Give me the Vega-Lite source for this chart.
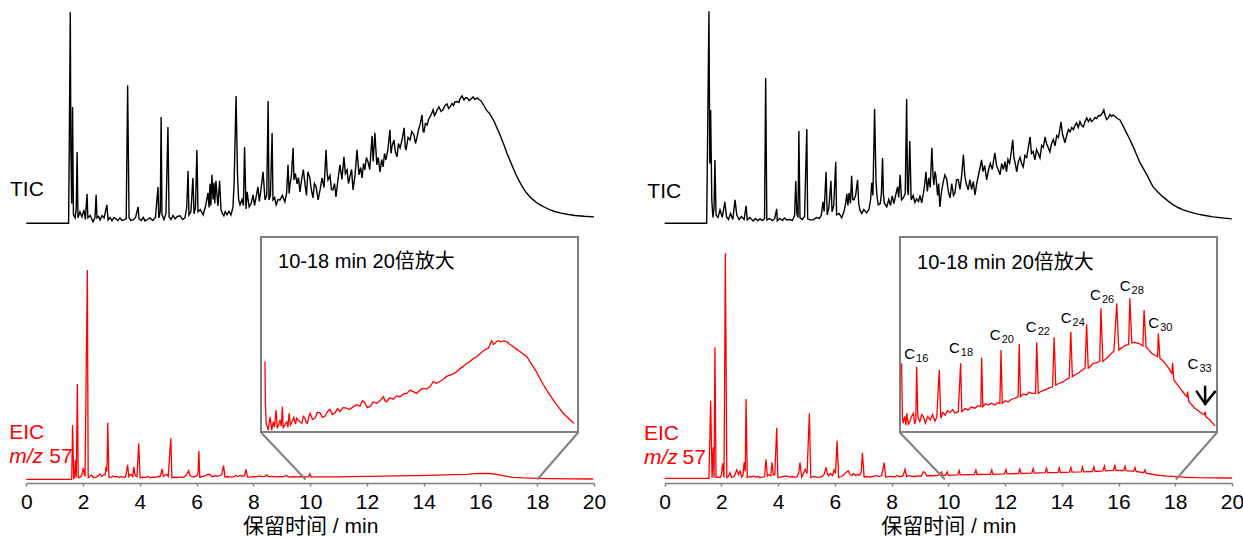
{
"$schema": "https://vega.github.io/schema/vega-lite/v6.json",
"width": 1243, "height": 483,
"autosize": {"type": "none"},
"padding": {"left": 0, "top": 0, "right": 0, "bottom": 55},
"background": "white",
"config": {"view": {"stroke": null}},
"resolve": {"scale": {"x": "independent", "y": "independent"}, "axis": {"x": "independent", "y": "independent"}},
"layer": [
{"data": {"values": [
{"t":0,"v":0.1},{"t":1.49,"v":0.1},{"t":1.52,"v":50.8},{"t":1.55,"v":105.6},{"t":1.57,"v":36.8},{"t":1.6,"v":10},{"t":1.63,"v":58.3},{"t":1.66,"v":4.3},{"t":1.72,"v":2.8},{"t":1.76,"v":8},{"t":1.79,"v":35.8},{"t":1.82,"v":2.8},{"t":1.89,"v":5.8},{"t":1.96,"v":3.3},{"t":2.03,"v":6.8},{"t":2.08,"v":2},{"t":2.14,"v":14.8},{"t":2.17,"v":2.8},{"t":2.25,"v":4},{"t":2.35,"v":0.8},{"t":2.42,"v":3},{"t":2.46,"v":14.3},{"t":2.49,"v":2.8},{"t":2.55,"v":3.5},{"t":2.6,"v":1.8},{"t":2.67,"v":4},{"t":2.74,"v":2.8},{"t":2.84,"v":9.3},{"t":2.88,"v":1.8},{"t":2.95,"v":3},{"t":3.02,"v":1.3},{"t":3.09,"v":3},{"t":3.16,"v":2.3},{"t":3.23,"v":1.5},{"t":3.3,"v":2.8},{"t":3.37,"v":1.5},{"t":3.44,"v":1.8},{"t":3.52,"v":2.5},{"t":3.57,"v":69.1},{"t":3.62,"v":2.8},{"t":3.69,"v":1.5},{"t":3.76,"v":1.8},{"t":3.85,"v":3},{"t":3.94,"v":8.3},{"t":3.97,"v":2.3},{"t":4.05,"v":1.5},{"t":4.12,"v":3},{"t":4.18,"v":1.3},{"t":4.26,"v":2},{"t":4.36,"v":2.8},{"t":4.45,"v":1.5},{"t":4.55,"v":3},{"t":4.64,"v":18.3},{"t":4.67,"v":2.8},{"t":4.72,"v":6},{"t":4.75,"v":53.3},{"t":4.78,"v":4.3},{"t":4.85,"v":2},{"t":4.92,"v":5},{"t":4.99,"v":48.3},{"t":5.03,"v":3.3},{"t":5.1,"v":2},{"t":5.17,"v":4},{"t":5.24,"v":2.3},{"t":5.32,"v":3.5},{"t":5.42,"v":3.8},{"t":5.5,"v":2},{"t":5.59,"v":2.8},{"t":5.65,"v":8},{"t":5.7,"v":26.3},{"t":5.73,"v":4.3},{"t":5.8,"v":6},{"t":5.87,"v":22.8},{"t":5.91,"v":4.8},{"t":5.96,"v":8},{"t":6.01,"v":36.8},{"t":6.05,"v":5.8},{"t":6.13,"v":7},{"t":6.23,"v":4.3},{"t":6.32,"v":9},{"t":6.4,"v":15.3},{"t":6.44,"v":8},{"t":6.47,"v":19.8},{"t":6.5,"v":9},{"t":6.54,"v":24.3},{"t":6.58,"v":12},{"t":6.61,"v":20.3},{"t":6.64,"v":10},{"t":6.68,"v":21.3},{"t":6.75,"v":8.8},{"t":6.81,"v":21.3},{"t":6.86,"v":6.8},{"t":6.91,"v":5},{"t":6.96,"v":3.8},{"t":7.01,"v":6},{"t":7.07,"v":4.3},{"t":7.14,"v":6},{"t":7.21,"v":4.3},{"t":7.28,"v":8},{"t":7.32,"v":19.8},{"t":7.39,"v":63.8},{"t":7.44,"v":24.3},{"t":7.48,"v":12},{"t":7.53,"v":9.3},{"t":7.6,"v":12},{"t":7.65,"v":9},{"t":7.69,"v":38.3},{"t":7.74,"v":7.3},{"t":7.78,"v":15.8},{"t":7.85,"v":8.3},{"t":7.92,"v":10},{"t":7.99,"v":14.3},{"t":8.04,"v":9},{"t":8.09,"v":12.8},{"t":8.16,"v":18.3},{"t":8.21,"v":11},{"t":8.27,"v":17.3},{"t":8.34,"v":25.8},{"t":8.41,"v":11.8},{"t":8.47,"v":14},{"t":8.52,"v":61.3},{"t":8.55,"v":11.8},{"t":8.6,"v":14},{"t":8.66,"v":45.3},{"t":8.69,"v":11.8},{"t":8.75,"v":13},{"t":8.8,"v":9.3},{"t":8.87,"v":12},{"t":8.94,"v":11.8},{"t":9.02,"v":14},{"t":9.11,"v":10.8},{"t":9.17,"v":15},{"t":9.22,"v":29.3},{"t":9.26,"v":15},{"t":9.29,"v":19.3},{"t":9.34,"v":24},{"t":9.4,"v":37.8},{"t":9.43,"v":21.8},{"t":9.48,"v":25},{"t":9.54,"v":19.8},{"t":9.59,"v":23},{"t":9.64,"v":15.8},{"t":9.7,"v":22},{"t":9.76,"v":27},{"t":9.82,"v":19.3},{"t":9.87,"v":14},{"t":9.92,"v":25.8},{"t":9.99,"v":22.8},{"t":10.04,"v":17},{"t":10.1,"v":12.8},{"t":10.15,"v":20},{"t":10.21,"v":18.3},{"t":10.28,"v":11.8},{"t":10.35,"v":16.8},{"t":10.42,"v":22.8},{"t":10.49,"v":18},{"t":10.56,"v":36.8},{"t":10.6,"v":25},{"t":10.63,"v":21.8},{"t":10.7,"v":24},{"t":10.75,"v":17},{"t":10.8,"v":16.8},{"t":10.86,"v":20},{"t":10.91,"v":13.3},{"t":10.98,"v":22},{"t":11.05,"v":29.3},{"t":11.12,"v":22},{"t":11.19,"v":33.3},{"t":11.24,"v":25},{"t":11.3,"v":26.8},{"t":11.35,"v":20},{"t":11.4,"v":23.3},{"t":11.46,"v":27},{"t":11.51,"v":16.8},{"t":11.58,"v":24},{"t":11.65,"v":36.8},{"t":11.72,"v":24.3},{"t":11.78,"v":28},{"t":11.83,"v":22.8},{"t":11.88,"v":30},{"t":11.93,"v":26.8},{"t":11.98,"v":33},{"t":12.04,"v":30.8},{"t":12.1,"v":27},{"t":12.18,"v":43.8},{"t":12.22,"v":31},{"t":12.28,"v":45.3},{"t":12.35,"v":29.3},{"t":12.4,"v":33},{"t":12.46,"v":25.8},{"t":12.52,"v":32},{"t":12.57,"v":28.3},{"t":12.62,"v":35},{"t":12.67,"v":31.8},{"t":12.74,"v":37},{"t":12.81,"v":46.8},{"t":12.85,"v":35},{"t":12.88,"v":38.3},{"t":12.95,"v":41.8},{"t":13.0,"v":36},{"t":13.06,"v":33.3},{"t":13.11,"v":40},{"t":13.17,"v":37.8},{"t":13.24,"v":42},{"t":13.31,"v":47.8},{"t":13.35,"v":38},{"t":13.38,"v":36.8},{"t":13.45,"v":43},{"t":13.52,"v":41.8},{"t":13.58,"v":46},{"t":13.66,"v":44.3},{"t":13.71,"v":40},{"t":13.76,"v":42.8},{"t":13.82,"v":47},{"t":13.87,"v":49.3},{"t":13.94,"v":54.3},{"t":13.98,"v":46},{"t":14.01,"v":45.8},{"t":14.06,"v":50},{"t":14.12,"v":49.3},{"t":14.17,"v":52},{"t":14.22,"v":53.3},{"t":14.28,"v":55},{"t":14.33,"v":56.8},{"t":14.38,"v":54},{"t":14.43,"v":55.3},{"t":14.48,"v":57},{"t":14.54,"v":58.3},{"t":14.61,"v":56},{"t":14.68,"v":56.8},{"t":14.75,"v":59},{"t":14.82,"v":59.8},{"t":14.88,"v":57.5},{"t":14.93,"v":58.3},{"t":15.0,"v":60},{"t":15.05,"v":59},{"t":15.1,"v":60.8},{"t":15.18,"v":61},{"t":15.24,"v":60.5},{"t":15.28,"v":62.3},{"t":15.35,"v":63.8},{"t":15.42,"v":61.8},{"t":15.48,"v":63},{"t":15.53,"v":62.8},{"t":15.6,"v":61.5},{"t":15.67,"v":62.3},{"t":15.74,"v":63.3},{"t":15.8,"v":62},{"t":15.88,"v":62.8},{"t":15.95,"v":62},{"t":16.02,"v":61.3},{"t":16.12,"v":59},{"t":16.23,"v":56.3},{"t":16.32,"v":55},{"t":16.41,"v":52.8},{"t":16.5,"v":50.5},{"t":16.58,"v":47.8},{"t":16.67,"v":45},{"t":16.76,"v":41.8},{"t":16.85,"v":38.5},{"t":16.93,"v":35.3},{"t":17.04,"v":31.5},{"t":17.15,"v":27.8},{"t":17.25,"v":24.5},{"t":17.36,"v":21.3},{"t":17.47,"v":18.5},{"t":17.57,"v":16.3},{"t":17.7,"v":14},{"t":17.82,"v":12.3},{"t":17.96,"v":10.6},{"t":18.1,"v":9.3},{"t":18.28,"v":8},{"t":18.45,"v":6.8},{"t":18.62,"v":6},{"t":18.8,"v":5.3},{"t":19.05,"v":4.6},{"t":19.33,"v":4.0},{"t":19.65,"v":3.6},{"t":20.0,"v":3.3}
]},
"mark": {"type": "line", "color": "black", "strokeWidth": 1.4},
"encoding": {
"x": {"field": "t", "type": "quantitative", "scale": {"domain": [0, 20], "range": [26.3, 594], "nice": false, "zero": false}, "axis": null},
"y": {"field": "v", "type": "quantitative", "scale": {"domain": [0, 100], "range": [223.5, 23.5], "nice": false, "zero": false}, "axis": null}}},

{"data": {"values": [
{"t":0,"v":0.1},{"t":1.6,"v":0.1},{"t":1.63,"v":27.3},{"t":1.67,"v":0.3},{"t":1.7,"v":1.5},{"t":1.73,"v":9.8},{"t":1.76,"v":1},{"t":1.8,"v":47.8},{"t":1.83,"v":1},{"t":1.89,"v":1},{"t":1.95,"v":2},{"t":2.01,"v":5.8},{"t":2.04,"v":3},{"t":2.07,"v":1.5},{"t":2.15,"v":104.8},{"t":2.18,"v":1},{"t":2.24,"v":1.5},{"t":2.3,"v":2.3},{"t":2.36,"v":1},{"t":2.45,"v":1.2},{"t":2.52,"v":1.8},{"t":2.6,"v":2.8},{"t":2.66,"v":1.5},{"t":2.72,"v":2.2},{"t":2.78,"v":2.5},{"t":2.81,"v":6.3},{"t":2.84,"v":4},{"t":2.87,"v":28.4},{"t":2.91,"v":1},{"t":3.0,"v":1.2},{"t":3.06,"v":1.8},{"t":3.12,"v":1.3},{"t":3.2,"v":1.5},{"t":3.28,"v":1.0},{"t":3.35,"v":1.5},{"t":3.42,"v":1},{"t":3.5,"v":1.3},{"t":3.57,"v":7.3},{"t":3.61,"v":1.5},{"t":3.66,"v":2.5},{"t":3.71,"v":2.3},{"t":3.75,"v":1.5},{"t":3.79,"v":6.3},{"t":3.82,"v":3},{"t":3.85,"v":1.8},{"t":3.9,"v":1.5},{"t":3.96,"v":18.1},{"t":4.01,"v":0.8},{"t":4.1,"v":1.2},{"t":4.2,"v":1},{"t":4.28,"v":1.5},{"t":4.36,"v":0.8},{"t":4.45,"v":1.2},{"t":4.55,"v":1},{"t":4.63,"v":1.5},{"t":4.71,"v":1.5},{"t":4.75,"v":3},{"t":4.78,"v":5.3},{"t":4.83,"v":1.5},{"t":4.88,"v":2.2},{"t":4.95,"v":2.5},{"t":5.0,"v":1.5},{"t":5.09,"v":20.6},{"t":5.13,"v":0.8},{"t":5.2,"v":1.2},{"t":5.3,"v":1},{"t":5.41,"v":1.3},{"t":5.5,"v":1},{"t":5.58,"v":1.5},{"t":5.65,"v":2.5},{"t":5.72,"v":4.4},{"t":5.77,"v":2},{"t":5.83,"v":1.5},{"t":5.9,"v":1.2},{"t":6.0,"v":1.8},{"t":6.05,"v":3},{"t":6.08,"v":14.3},{"t":6.11,"v":1.2},{"t":6.2,"v":1.5},{"t":6.3,"v":1.8},{"t":6.38,"v":2.5},{"t":6.47,"v":2.5},{"t":6.53,"v":1.5},{"t":6.59,"v":1.5},{"t":6.66,"v":2},{"t":6.73,"v":1.5},{"t":6.82,"v":2},{"t":6.88,"v":2.3},{"t":6.95,"v":6.9},{"t":7.0,"v":1.3},{"t":7.1,"v":1.5},{"t":7.2,"v":1.2},{"t":7.29,"v":1.3},{"t":7.38,"v":2},{"t":7.46,"v":1.5},{"t":7.55,"v":2},{"t":7.62,"v":1.5},{"t":7.69,"v":2},{"t":7.74,"v":5.1},{"t":7.79,"v":1.2},{"t":7.9,"v":1.2},{"t":8.0,"v":1.5},{"t":8.1,"v":1.3},{"t":8.2,"v":1.8},{"t":8.3,"v":1.4},{"t":8.4,"v":1.6},{"t":8.47,"v":2.3},{"t":8.55,"v":1.4},{"t":8.65,"v":1.6},{"t":8.8,"v":1.3},{"t":8.95,"v":1.5},{"t":9.05,"v":1.3},{"t":9.17,"v":2},{"t":9.25,"v":1.2},{"t":9.4,"v":1.4},{"t":9.55,"v":1.3},{"t":9.7,"v":1.5},{"t":9.85,"v":1.3},{"t":9.95,"v":1.4},{"t":9.99,"v":2.8},{"t":10.04,"v":1.2},{"t":10.2,"v":1.3},{"t":10.35,"v":1.3},{"t":10.6,"v":1.3},{"t":11.0,"v":1.35},{"t":11.4,"v":1.4},{"t":12.0,"v":1.55},{"t":12.5,"v":1.7},{"t":13.0,"v":1.8},{"t":13.75,"v":1.95},{"t":14.5,"v":2.2},{"t":15.0,"v":2.4},{"t":15.52,"v":2.6},{"t":15.8,"v":2.9},{"t":16.1,"v":3.1},{"t":16.35,"v":3.0},{"t":16.57,"v":2.6},{"t":16.85,"v":1.8},{"t":17.15,"v":1.1},{"t":17.5,"v":0.8},{"t":17.98,"v":0.6},{"t":18.5,"v":0.4},{"t":19.2,"v":0.3},{"t":19.97,"v":0.25}
]},
"mark": {"type": "line", "color": "#ff0000", "strokeWidth": 1.3},
"encoding": {
"x": {"field": "t", "type": "quantitative", "scale": {"domain": [0, 20], "range": [26.3, 594], "nice": false, "zero": false},
 "axis": {"orient": "bottom", "values": [0,2,4,6,8,10,12,14,16,18,20], "title": "保留时间 / min", "grid": false, "domainColor": "#7f7f7f", "domainWidth": 1.5, "tickColor": "#7f7f7f", "tickWidth": 1.5, "tickSize": 3, "labelFont": "Liberation Sans", "labelFontSize": 21, "labelColor": "black", "labelPadding": 5, "labelFlush": false, "labelOverlap": false, "titleFont": "Liberation Sans, Noto Sans CJK SC", "titleFontSize": 21, "titleFontWeight": "normal", "titleColor": "black", "titlePadding": 3}},
"y": {"field": "v", "type": "quantitative", "scale": {"domain": [0, 100], "range": [479.5, 279.5], "nice": false, "zero": false}, "axis": null}}},

{"data": {"values": [{"t1": 8.27, "v1": 23.5, "t2": 9.84, "v2": 0}, {"t1": 19.44, "v1": 23.5, "t2": 18.0, "v2": 0}]},
"mark": {"type": "rule", "color": "#7f7f7f", "strokeWidth": 2},
"encoding": {
"x": {"field": "t1", "type": "quantitative", "scale": {"domain": [0, 20], "range": [26.3, 594], "nice": false, "zero": false}, "axis": null},
"x2": {"field": "t2"},
"y": {"field": "v1", "type": "quantitative", "scale": {"domain": [0, 100], "range": [479.5, 279.5], "nice": false, "zero": false}, "axis": null},
"y2": {"field": "v2"}}},

{"data": {"values": [{"a": 10, "b": 18, "c": 0, "d": 100}]},
"mark": {"type": "rect", "filled": false, "stroke": "#7f7f7f", "strokeWidth": 2},
"encoding": {
"x": {"field": "a", "type": "quantitative", "scale": {"domain": [10, 18], "range": [261, 578], "nice": false, "zero": false}, "axis": null},
"x2": {"field": "b"},
"y": {"field": "c", "type": "quantitative", "scale": {"domain": [0, 100], "range": [432, 237], "nice": false, "zero": false}, "axis": null},
"y2": {"field": "d"}}},

{"data": {"values": [
{"t":10.1,"v":36.1},{"t":10.11,"v":15},{"t":10.13,"v":4.5},{"t":10.18,"v":1.0},{"t":10.23,"v":7.8},{"t":10.27,"v":1.0},{"t":10.31,"v":5.3},{"t":10.34,"v":2.5},{"t":10.38,"v":11.3},{"t":10.41,"v":1.9},{"t":10.45,"v":4},{"t":10.48,"v":6.2},{"t":10.51,"v":3},{"t":10.54,"v":13},{"t":10.56,"v":1.9},{"t":10.61,"v":4},{"t":10.65,"v":5.3},{"t":10.68,"v":2.5},{"t":10.71,"v":9.6},{"t":10.74,"v":3.5},{"t":10.77,"v":4.5},{"t":10.83,"v":7.5},{"t":10.87,"v":4},{"t":10.9,"v":7},{"t":10.96,"v":5.5},{"t":11.03,"v":4.5},{"t":11.07,"v":8},{"t":11.11,"v":7},{"t":11.14,"v":5},{"t":11.17,"v":4.5},{"t":11.21,"v":8},{"t":11.24,"v":9.6},{"t":11.3,"v":6.5},{"t":11.36,"v":7},{"t":11.42,"v":10},{"t":11.49,"v":9.9},{"t":11.55,"v":7.5},{"t":11.62,"v":8.2},{"t":11.68,"v":10.5},{"t":11.74,"v":11.6},{"t":11.8,"v":9},{"t":11.87,"v":9.9},{"t":11.93,"v":12},{"t":11.99,"v":10.4},{"t":12.07,"v":12.5},{"t":12.16,"v":12.2},{"t":12.24,"v":11.5},{"t":12.33,"v":13},{"t":12.42,"v":14},{"t":12.5,"v":13.3},{"t":12.56,"v":16},{"t":12.62,"v":15},{"t":12.68,"v":12.5},{"t":12.75,"v":13},{"t":12.83,"v":15.5},{"t":12.92,"v":14.7},{"t":13.0,"v":16},{"t":13.09,"v":18.1},{"t":13.13,"v":16},{"t":13.17,"v":15.5},{"t":13.25,"v":17.5},{"t":13.34,"v":16.8},{"t":13.42,"v":18.5},{"t":13.51,"v":18.1},{"t":13.6,"v":19.5},{"t":13.68,"v":19.8},{"t":13.76,"v":21.5},{"t":13.84,"v":20.7},{"t":13.93,"v":19.8},{"t":14.01,"v":21.5},{"t":14.09,"v":22.4},{"t":14.17,"v":22},{"t":14.26,"v":23.2},{"t":14.35,"v":25.8},{"t":14.43,"v":25},{"t":14.52,"v":26},{"t":14.6,"v":27},{"t":14.68,"v":28.5},{"t":14.77,"v":29.2},{"t":14.85,"v":29.8},{"t":14.94,"v":30.9},{"t":15.02,"v":32.5},{"t":15.1,"v":33.5},{"t":15.18,"v":35},{"t":15.27,"v":36.1},{"t":15.35,"v":37.5},{"t":15.44,"v":38.6},{"t":15.52,"v":40},{"t":15.61,"v":41.7},{"t":15.68,"v":42.5},{"t":15.74,"v":42.9},{"t":15.78,"v":45},{"t":15.82,"v":46.8},{"t":15.87,"v":45},{"t":15.91,"v":45.5},{"t":15.95,"v":46.5},{"t":15.99,"v":46.8},{"t":16.05,"v":46.2},{"t":16.12,"v":46.7},{"t":16.2,"v":46.3},{"t":16.28,"v":45},{"t":16.37,"v":43.7},{"t":16.45,"v":42.5},{"t":16.54,"v":41.2},{"t":16.62,"v":40},{"t":16.71,"v":38.6},{"t":16.79,"v":36},{"t":16.87,"v":33.5},{"t":16.96,"v":30.5},{"t":17.04,"v":27.5},{"t":17.12,"v":24.5},{"t":17.21,"v":21.5},{"t":17.29,"v":19},{"t":17.38,"v":16.4},{"t":17.46,"v":14},{"t":17.55,"v":11.6},{"t":17.63,"v":9.5},{"t":17.72,"v":7.8},{"t":17.81,"v":6},{"t":17.9,"v":4.5}
]},
"mark": {"type": "line", "color": "#ff0000", "strokeWidth": 1.3},
"encoding": {
"x": {"field": "t", "type": "quantitative", "scale": {"domain": [10, 18], "range": [261, 578], "nice": false, "zero": false}, "axis": null},
"y": {"field": "v", "type": "quantitative", "scale": {"domain": [0, 100], "range": [432, 237], "nice": false, "zero": false}, "axis": null}}},

{"data": {"values": [{"t": 10.43, "v": 87.2, "label": "10-18 min 20倍放大"}]},
"mark": {"type": "text", "align": "left", "baseline": "middle", "font": "Liberation Sans, Noto Sans CJK SC", "fontSize": 20, "color": "black"},
"encoding": {
"x": {"field": "t", "type": "quantitative", "scale": {"domain": [10, 18], "range": [261, 578], "nice": false, "zero": false}, "axis": null},
"y": {"field": "v", "type": "quantitative", "scale": {"domain": [0, 100], "range": [432, 237], "nice": false, "zero": false}, "axis": null},
"text": {"field": "label"}}},

{"data": {"values": [{"t": -0.574, "v": 16.75, "label": "TIC"}]},
"mark": {"type": "text", "align": "left", "baseline": "middle", "font": "Liberation Sans", "fontSize": 21, "color": "black"},
"encoding": {
"x": {"field": "t", "type": "quantitative", "scale": {"domain": [0, 20], "range": [26.3, 594], "nice": false, "zero": false}, "axis": null},
"y": {"field": "v", "type": "quantitative", "scale": {"domain": [0, 100], "range": [223.5, 23.5], "nice": false, "zero": false}, "axis": null},
"text": {"field": "label"}}},

{"data": {"values": [{"t": -0.6, "v": 23.25, "label": "EIC"}, {"t": 0.81, "v": 11.4, "label": "57"}]},
"mark": {"type": "text", "align": "left", "baseline": "middle", "font": "Liberation Sans", "fontSize": 21, "color": "#ff0000"},
"encoding": {
"x": {"field": "t", "type": "quantitative", "scale": {"domain": [0, 20], "range": [26.3, 594], "nice": false, "zero": false}, "axis": null},
"y": {"field": "v", "type": "quantitative", "scale": {"domain": [0, 100], "range": [479.5, 279.5], "nice": false, "zero": false}, "axis": null},
"text": {"field": "label"}}},

{"data": {"values": [{"t": -0.6, "v": 11.4, "label": "m/z"}]},
"mark": {"type": "text", "align": "left", "baseline": "middle", "font": "Liberation Sans", "fontSize": 21, "fontStyle": "italic", "color": "#ff0000"},
"encoding": {
"x": {"field": "t", "type": "quantitative", "scale": {"domain": [0, 20], "range": [26.3, 594], "nice": false, "zero": false}, "axis": null},
"y": {"field": "v", "type": "quantitative", "scale": {"domain": [0, 100], "range": [479.5, 279.5], "nice": false, "zero": false}, "axis": null},
"text": {"field": "label"}}},

{"data": {"values": [
{"t":0,"v":0.1},{"t":1.48,"v":0.1},{"t":1.52,"v":53.3},{"t":1.56,"v":106.1},{"t":1.59,"v":30},{"t":1.62,"v":56.8},{"t":1.66,"v":11.8},{"t":1.7,"v":3},{"t":1.74,"v":8},{"t":1.77,"v":31.8},{"t":1.81,"v":4.3},{"t":1.88,"v":3},{"t":1.95,"v":6.8},{"t":2.03,"v":3},{"t":2.12,"v":10.8},{"t":2.18,"v":3.3},{"t":2.25,"v":2},{"t":2.32,"v":5},{"t":2.4,"v":2},{"t":2.48,"v":11.8},{"t":2.54,"v":4.3},{"t":2.62,"v":2},{"t":2.7,"v":3.5},{"t":2.8,"v":2},{"t":2.87,"v":8.8},{"t":2.91,"v":1.8},{"t":3.0,"v":3},{"t":3.12,"v":1.3},{"t":3.2,"v":2.5},{"t":3.28,"v":1.5},{"t":3.36,"v":2.3},{"t":3.45,"v":1.5},{"t":3.52,"v":2.5},{"t":3.56,"v":72.8},{"t":3.6,"v":1.8},{"t":3.7,"v":2.5},{"t":3.8,"v":1.5},{"t":3.88,"v":2.5},{"t":3.95,"v":7.3},{"t":3.97,"v":1.3},{"t":4.05,"v":2.5},{"t":4.15,"v":1.5},{"t":4.22,"v":2.8},{"t":4.3,"v":1.8},{"t":4.4,"v":2},{"t":4.5,"v":1.5},{"t":4.58,"v":4},{"t":4.62,"v":21.3},{"t":4.66,"v":5},{"t":4.7,"v":3},{"t":4.73,"v":46.3},{"t":4.77,"v":2.8},{"t":4.85,"v":2},{"t":4.93,"v":3.5},{"t":5.01,"v":47.3},{"t":5.04,"v":2.3},{"t":5.12,"v":1.8},{"t":5.24,"v":1.8},{"t":5.35,"v":3},{"t":5.45,"v":2.5},{"t":5.52,"v":4},{"t":5.58,"v":10.8},{"t":5.62,"v":6},{"t":5.69,"v":25.8},{"t":5.73,"v":4.3},{"t":5.79,"v":8},{"t":5.86,"v":21.3},{"t":5.9,"v":5.8},{"t":5.96,"v":9},{"t":6.03,"v":30.8},{"t":6.06,"v":4.3},{"t":6.15,"v":5},{"t":6.24,"v":2.8},{"t":6.32,"v":6},{"t":6.38,"v":10},{"t":6.42,"v":14.8},{"t":6.46,"v":9},{"t":6.5,"v":15.3},{"t":6.55,"v":10},{"t":6.59,"v":23.8},{"t":6.63,"v":12},{"t":6.67,"v":11.8},{"t":6.73,"v":14},{"t":6.8,"v":21.8},{"t":6.84,"v":10},{"t":6.88,"v":6.8},{"t":6.95,"v":5},{"t":7.02,"v":7},{"t":7.12,"v":5.3},{"t":7.2,"v":7},{"t":7.26,"v":12},{"t":7.3,"v":20.3},{"t":7.34,"v":14},{"t":7.4,"v":57.3},{"t":7.45,"v":20.8},{"t":7.49,"v":13},{"t":7.53,"v":9.3},{"t":7.6,"v":10},{"t":7.64,"v":15},{"t":7.68,"v":32.8},{"t":7.71,"v":15},{"t":7.74,"v":10.3},{"t":7.83,"v":8.3},{"t":7.9,"v":12},{"t":7.96,"v":9},{"t":8.02,"v":13.8},{"t":8.08,"v":10},{"t":8.14,"v":14},{"t":8.21,"v":18.3},{"t":8.25,"v":13},{"t":8.3,"v":24.3},{"t":8.35,"v":11.8},{"t":8.42,"v":13},{"t":8.48,"v":15},{"t":8.53,"v":62.3},{"t":8.56,"v":17},{"t":8.59,"v":14.3},{"t":8.64,"v":41.3},{"t":8.69,"v":11.8},{"t":8.76,"v":14},{"t":8.82,"v":10.5},{"t":8.88,"v":12.3},{"t":8.95,"v":11},{"t":9.0,"v":14},{"t":9.06,"v":10.3},{"t":9.12,"v":15},{"t":9.17,"v":20},{"t":9.21,"v":25.8},{"t":9.26,"v":16},{"t":9.31,"v":22.8},{"t":9.36,"v":18},{"t":9.42,"v":37.8},{"t":9.46,"v":24},{"t":9.49,"v":19.3},{"t":9.53,"v":26},{"t":9.56,"v":23.8},{"t":9.62,"v":14},{"t":9.66,"v":20},{"t":9.7,"v":8.3},{"t":9.76,"v":16},{"t":9.82,"v":20.8},{"t":9.88,"v":24.3},{"t":9.94,"v":22.3},{"t":10.0,"v":16},{"t":10.06,"v":12.8},{"t":10.12,"v":20},{"t":10.18,"v":14},{"t":10.23,"v":15.3},{"t":10.29,"v":22},{"t":10.35,"v":21.8},{"t":10.41,"v":17},{"t":10.47,"v":24},{"t":10.53,"v":34.3},{"t":10.58,"v":24},{"t":10.63,"v":20},{"t":10.7,"v":16.8},{"t":10.76,"v":22},{"t":10.82,"v":17},{"t":10.88,"v":21},{"t":10.94,"v":14.3},{"t":11.0,"v":20},{"t":11.06,"v":24},{"t":11.12,"v":28},{"t":11.17,"v":31.8},{"t":11.22,"v":26},{"t":11.28,"v":29},{"t":11.35,"v":21.8},{"t":11.42,"v":27},{"t":11.48,"v":30},{"t":11.55,"v":27},{"t":11.6,"v":32},{"t":11.64,"v":35.3},{"t":11.7,"v":29},{"t":11.76,"v":27},{"t":11.82,"v":24.3},{"t":11.88,"v":30},{"t":11.94,"v":27},{"t":12.0,"v":31},{"t":12.05,"v":25.8},{"t":12.1,"v":32},{"t":12.16,"v":30},{"t":12.22,"v":36},{"t":12.27,"v":41.8},{"t":12.31,"v":33},{"t":12.36,"v":30},{"t":12.41,"v":25.8},{"t":12.47,"v":31},{"t":12.53,"v":33},{"t":12.58,"v":30},{"t":12.64,"v":28.3},{"t":12.7,"v":34},{"t":12.76,"v":33},{"t":12.82,"v":38},{"t":12.88,"v":43.3},{"t":12.93,"v":35},{"t":12.99,"v":36},{"t":13.05,"v":31.8},{"t":13.11,"v":37},{"t":13.17,"v":35},{"t":13.23,"v":32.8},{"t":13.29,"v":39},{"t":13.35,"v":38},{"t":13.41,"v":43.3},{"t":13.46,"v":40},{"t":13.52,"v":38},{"t":13.58,"v":35.8},{"t":13.64,"v":40},{"t":13.7,"v":42},{"t":13.76,"v":38.8},{"t":13.82,"v":44},{"t":13.88,"v":43},{"t":13.93,"v":47},{"t":13.97,"v":50.8},{"t":14.02,"v":45},{"t":14.06,"v":43},{"t":14.11,"v":40.3},{"t":14.17,"v":44},{"t":14.23,"v":47},{"t":14.29,"v":45.8},{"t":14.35,"v":48},{"t":14.41,"v":47},{"t":14.46,"v":49},{"t":14.52,"v":50.3},{"t":14.58,"v":48},{"t":14.64,"v":51},{"t":14.7,"v":49},{"t":14.76,"v":48.3},{"t":14.82,"v":51},{"t":14.88,"v":52.8},{"t":14.94,"v":51},{"t":15.0,"v":52.5},{"t":15.05,"v":51},{"t":15.11,"v":51.8},{"t":15.17,"v":53},{"t":15.23,"v":52.5},{"t":15.29,"v":54},{"t":15.35,"v":53.8},{"t":15.42,"v":55},{"t":15.48,"v":56.8},{"t":15.53,"v":54},{"t":15.58,"v":52},{"t":15.64,"v":52.8},{"t":15.7,"v":54.5},{"t":15.76,"v":53.5},{"t":15.81,"v":54.3},{"t":15.88,"v":53.5},{"t":15.96,"v":52.5},{"t":16.05,"v":51.8},{"t":16.16,"v":48.8},{"t":16.28,"v":45.3},{"t":16.4,"v":42},{"t":16.52,"v":38.3},{"t":16.64,"v":34.3},{"t":16.76,"v":30.3},{"t":16.88,"v":27.3},{"t":17.0,"v":24.3},{"t":17.11,"v":21.2},{"t":17.22,"v":18.3},{"t":17.4,"v":15.5},{"t":17.57,"v":13.3},{"t":17.75,"v":11.2},{"t":17.93,"v":9.3},{"t":18.1,"v":8},{"t":18.28,"v":6.8},{"t":18.5,"v":5.8},{"t":18.75,"v":4.8},{"t":19.05,"v":4},{"t":19.34,"v":3.3},{"t":19.65,"v":2.8},{"t":19.99,"v":2.3}
]},
"mark": {"type": "line", "color": "black", "strokeWidth": 1.4},
"encoding": {
"x": {"field": "t", "type": "quantitative", "scale": {"domain": [0, 20], "range": [664.7, 1232], "nice": false, "zero": false}, "axis": null},
"y": {"field": "v", "type": "quantitative", "scale": {"domain": [0, 100], "range": [223.5, 23.5], "nice": false, "zero": false}, "axis": null}}},

{"data": {"values": [
{"t":0,"v":0.6},{"t":1.56,"v":0.6},{"t":1.62,"v":39.3},{"t":1.67,"v":0.8},{"t":1.71,"v":16.1},{"t":1.74,"v":1},{"t":1.77,"v":66.1},{"t":1.81,"v":1},{"t":1.88,"v":1.2},{"t":1.95,"v":1},{"t":2.0,"v":2.5},{"t":2.04,"v":8.1},{"t":2.09,"v":1},{"t":2.14,"v":113.1},{"t":2.19,"v":1},{"t":2.25,"v":1.5},{"t":2.3,"v":3.4},{"t":2.36,"v":1},{"t":2.45,"v":1.5},{"t":2.54,"v":4.8},{"t":2.6,"v":2.5},{"t":2.66,"v":4.3},{"t":2.71,"v":1.2},{"t":2.76,"v":2},{"t":2.8,"v":8.6},{"t":2.84,"v":4},{"t":2.87,"v":40.3},{"t":2.91,"v":1},{"t":3.0,"v":1.5},{"t":3.06,"v":1.2},{"t":3.12,"v":1.8},{"t":3.2,"v":1.2},{"t":3.28,"v":1.5},{"t":3.36,"v":1},{"t":3.45,"v":1.2},{"t":3.52,"v":1.5},{"t":3.57,"v":10.1},{"t":3.62,"v":1.8},{"t":3.68,"v":2.5},{"t":3.74,"v":1.8},{"t":3.78,"v":8.6},{"t":3.83,"v":2.3},{"t":3.88,"v":2.5},{"t":3.95,"v":25.9},{"t":3.99,"v":1},{"t":4.08,"v":1.2},{"t":4.18,"v":1.5},{"t":4.3,"v":1.8},{"t":4.4,"v":1.2},{"t":4.5,"v":1.5},{"t":4.58,"v":1.2},{"t":4.65,"v":1.2},{"t":4.72,"v":3},{"t":4.77,"v":8.4},{"t":4.83,"v":1.2},{"t":4.9,"v":3},{"t":4.95,"v":5.1},{"t":5.02,"v":3},{"t":5.1,"v":33.1},{"t":5.15,"v":1},{"t":5.25,"v":1.5},{"t":5.35,"v":1.2},{"t":5.47,"v":1.2},{"t":5.55,"v":1.5},{"t":5.62,"v":2.5},{"t":5.69,"v":6.1},{"t":5.73,"v":3},{"t":5.77,"v":1.8},{"t":5.84,"v":3},{"t":5.92,"v":2},{"t":5.97,"v":4.8},{"t":6.02,"v":3},{"t":6.08,"v":19.4},{"t":6.13,"v":1},{"t":6.22,"v":1.5},{"t":6.3,"v":2},{"t":6.38,"v":3.4},{"t":6.47,"v":4.4},{"t":6.53,"v":2.5},{"t":6.6,"v":2},{"t":6.65,"v":3},{"t":6.72,"v":2},{"t":6.8,"v":2.5},{"t":6.88,"v":2.3},{"t":6.93,"v":4},{"t":6.97,"v":13.4},{"t":7.03,"v":1.2},{"t":7.12,"v":1.5},{"t":7.22,"v":1.2},{"t":7.35,"v":1.5},{"t":7.45,"v":2},{"t":7.55,"v":1.5},{"t":7.65,"v":2},{"t":7.74,"v":8.4},{"t":7.79,"v":1.2},{"t":7.9,"v":1.4},{"t":8.0,"v":1.5},{"t":8.12,"v":1.3},{"t":8.2,"v":2},{"t":8.29,"v":1.2},{"t":8.4,"v":1.8},{"t":8.47,"v":5.1},{"t":8.53,"v":1.5},{"t":8.62,"v":2},{"t":8.7,"v":1.6},{"t":8.82,"v":1.5},{"t":8.95,"v":1.8},{"t":9.05,"v":1.6},{"t":9.12,"v":3.9},{"t":9.18,"v":3.4},{"t":9.24,"v":1.8},{"t":9.35,"v":2},{"t":9.45,"v":1.8},{"t":9.53,"v":2},{"t":9.62,"v":1.9},{"t":9.76,"v":3.8},{"t":9.79,"v":2},{"t":9.9,"v":2.1},{"t":9.96,"v":3.8},{"t":10.0,"v":2.1},{"t":10.33,"v":2.3},{"t":10.38,"v":4.5},{"t":10.42,"v":2.3},{"t":10.92,"v":2.5},{"t":10.97,"v":4.7},{"t":11.01,"v":2.5},{"t":11.48,"v":2.6},{"t":11.53,"v":4.8},{"t":11.57,"v":2.6},{"t":11.98,"v":2.8},{"t":12.03,"v":5.0},{"t":12.07,"v":2.8},{"t":12.47,"v":3.0},{"t":12.52,"v":5.2},{"t":12.56,"v":3.0},{"t":12.94,"v":3.2},{"t":12.99,"v":5.4},{"t":13.03,"v":3.2},{"t":13.41,"v":3.4},{"t":13.46,"v":5.6},{"t":13.5,"v":3.4},{"t":13.86,"v":3.5},{"t":13.91,"v":5.8},{"t":13.95,"v":3.5},{"t":14.27,"v":3.7},{"t":14.32,"v":6.0},{"t":14.36,"v":3.7},{"t":14.68,"v":3.8},{"t":14.73,"v":6.2},{"t":14.77,"v":3.8},{"t":15.08,"v":4.0},{"t":15.13,"v":6.4},{"t":15.17,"v":4.0},{"t":15.45,"v":4.3},{"t":15.5,"v":6.7},{"t":15.54,"v":4.3},{"t":15.82,"v":4.6},{"t":15.87,"v":7.0},{"t":15.91,"v":4.6},{"t":16.18,"v":4.5},{"t":16.23,"v":6.6},{"t":16.27,"v":4.4},{"t":16.53,"v":4.1},{"t":16.58,"v":6.0},{"t":16.62,"v":4.0},{"t":16.88,"v":3.4},{"t":16.93,"v":4.8},{"t":16.97,"v":3.2},{"t":17.34,"v":2.25},{"t":17.7,"v":1.7},{"t":18.05,"v":1.4},{"t":18.4,"v":1.1},{"t":18.75,"v":0.9},{"t":19.3,"v":0.8},{"t":20.0,"v":0.75}
]},
"mark": {"type": "line", "color": "#ff0000", "strokeWidth": 1.3},
"encoding": {
"x": {"field": "t", "type": "quantitative", "scale": {"domain": [0, 20], "range": [664.7, 1232], "nice": false, "zero": false},
 "axis": {"orient": "bottom", "values": [0,2,4,6,8,10,12,14,16,18,20], "title": "保留时间 / min", "grid": false, "domainColor": "#7f7f7f", "domainWidth": 1.5, "tickColor": "#7f7f7f", "tickWidth": 1.5, "tickSize": 3, "labelFont": "Liberation Sans", "labelFontSize": 21, "labelColor": "black", "labelPadding": 5, "labelFlush": false, "labelOverlap": false, "titleFont": "Liberation Sans, Noto Sans CJK SC", "titleFontSize": 21, "titleFontWeight": "normal", "titleColor": "black", "titlePadding": 3}},
"y": {"field": "v", "type": "quantitative", "scale": {"domain": [0, 100], "range": [479.5, 279.5], "nice": false, "zero": false}, "axis": null}}},

{"data": {"values": [{"t1": 8.29, "v1": 23.5, "t2": 9.88, "v2": 0}, {"t1": 19.47, "v1": 23.5, "t2": 18.02, "v2": 0}]},
"mark": {"type": "rule", "color": "#7f7f7f", "strokeWidth": 2},
"encoding": {
"x": {"field": "t1", "type": "quantitative", "scale": {"domain": [0, 20], "range": [664.7, 1232], "nice": false, "zero": false}, "axis": null},
"x2": {"field": "t2"},
"y": {"field": "v1", "type": "quantitative", "scale": {"domain": [0, 100], "range": [479.5, 279.5], "nice": false, "zero": false}, "axis": null},
"y2": {"field": "v2"}}},

{"data": {"values": [{"a": 10, "b": 18, "c": 0, "d": 100}]},
"mark": {"type": "rect", "filled": false, "stroke": "#7f7f7f", "strokeWidth": 2},
"encoding": {
"x": {"field": "a", "type": "quantitative", "scale": {"domain": [10, 18], "range": [900, 1217], "nice": false, "zero": false}, "axis": null},
"x2": {"field": "b"},
"y": {"field": "c", "type": "quantitative", "scale": {"domain": [0, 100], "range": [432, 237], "nice": false, "zero": false}, "axis": null},
"y2": {"field": "d"}}},

{"data": {"values": [
{"t":10.04,"v":35.2},{"t":10.06,"v":7.8},{"t":10.08,"v":4.5},{"t":10.12,"v":8},{"t":10.15,"v":3.5},{"t":10.17,"v":9.6},{"t":10.21,"v":4},{"t":10.25,"v":5.3},{"t":10.29,"v":8},{"t":10.34,"v":9.6},{"t":10.37,"v":4},{"t":10.4,"v":6.2},{"t":10.42,"v":33.5},{"t":10.45,"v":7.8},{"t":10.5,"v":5.3},{"t":10.55,"v":9},{"t":10.59,"v":7.8},{"t":10.64,"v":4.5},{"t":10.7,"v":8},{"t":10.76,"v":6.2},{"t":10.82,"v":9},{"t":10.88,"v":5.5},{"t":10.93,"v":7.8},{"t":10.99,"v":31.8},{"t":11.03,"v":7.0},{"t":11.08,"v":10},{"t":11.14,"v":8.7},{"t":11.2,"v":11},{"t":11.26,"v":9.9},{"t":11.33,"v":11.5},{"t":11.39,"v":9.6},{"t":11.47,"v":10.4},{"t":11.53,"v":35.2},{"t":11.56,"v":10.4},{"t":11.64,"v":12},{"t":11.72,"v":11.3},{"t":11.8,"v":12.8},{"t":11.89,"v":12.2},{"t":11.97,"v":13.5},{"t":12.04,"v":13.0},{"t":12.06,"v":38.1},{"t":12.09,"v":13.0},{"t":12.16,"v":14.5},{"t":12.23,"v":13.8},{"t":12.31,"v":14.8},{"t":12.4,"v":13.8},{"t":12.47,"v":15},{"t":12.52,"v":14.7},{"t":12.55,"v":42.1},{"t":12.58,"v":14.7},{"t":12.66,"v":16},{"t":12.73,"v":15.5},{"t":12.82,"v":16.8},{"t":12.9,"v":17.3},{"t":12.98,"v":18.1},{"t":13.01,"v":45.1},{"t":13.04,"v":18.1},{"t":13.11,"v":19.5},{"t":13.19,"v":19.0},{"t":13.26,"v":20.5},{"t":13.32,"v":19.8},{"t":13.42,"v":19.8},{"t":13.45,"v":46.0},{"t":13.49,"v":19.8},{"t":13.57,"v":21},{"t":13.66,"v":21.5},{"t":13.75,"v":22.5},{"t":13.85,"v":23.2},{"t":13.89,"v":48.6},{"t":13.93,"v":24.1},{"t":14.02,"v":25},{"t":14.12,"v":25.8},{"t":14.2,"v":27},{"t":14.27,"v":27.5},{"t":14.31,"v":51.4},{"t":14.35,"v":28.4},{"t":14.42,"v":29.5},{"t":14.5,"v":30.1},{"t":14.58,"v":31.5},{"t":14.67,"v":32.7},{"t":14.71,"v":55.2},{"t":14.75,"v":32.7},{"t":14.82,"v":34},{"t":14.88,"v":35.2},{"t":14.94,"v":35.5},{"t":15.04,"v":36.1},{"t":15.07,"v":63.4},{"t":15.12,"v":36.1},{"t":15.19,"v":37.5},{"t":15.26,"v":38.6},{"t":15.32,"v":40},{"t":15.4,"v":41.5},{"t":15.47,"v":66.0},{"t":15.52,"v":42.1},{"t":15.58,"v":43},{"t":15.64,"v":43.7},{"t":15.7,"v":44.5},{"t":15.77,"v":44.8},{"t":15.8,"v":68.6},{"t":15.85,"v":45.8},{"t":15.93,"v":46},{"t":16.01,"v":45.5},{"t":16.07,"v":45},{"t":16.13,"v":44.1},{"t":16.16,"v":62.6},{"t":16.21,"v":43.7},{"t":16.28,"v":42},{"t":16.35,"v":40.4},{"t":16.42,"v":39.5},{"t":16.5,"v":38.6},{"t":16.52,"v":50.6},{"t":16.56,"v":37.8},{"t":16.63,"v":36.5},{"t":16.69,"v":35.2},{"t":16.78,"v":32.8},{"t":16.86,"v":30.1},{"t":16.88,"v":35.5},{"t":16.91,"v":26.7},{"t":16.99,"v":24.5},{"t":17.07,"v":22.4},{"t":17.16,"v":20},{"t":17.24,"v":18.1},{"t":17.26,"v":20.7},{"t":17.29,"v":15.5},{"t":17.36,"v":14},{"t":17.44,"v":12.2},{"t":17.52,"v":11},{"t":17.61,"v":9.6},{"t":17.68,"v":8.8},{"t":17.7,"v":10.4},{"t":17.72,"v":7.8},{"t":17.8,"v":6.5},{"t":17.88,"v":4.8},{"t":17.95,"v":3.1}
]},
"mark": {"type": "line", "color": "#ff0000", "strokeWidth": 1.3},
"encoding": {
"x": {"field": "t", "type": "quantitative", "scale": {"domain": [10, 18], "range": [900, 1217], "nice": false, "zero": false}, "axis": null},
"y": {"field": "v", "type": "quantitative", "scale": {"domain": [0, 100], "range": [432, 237], "nice": false, "zero": false}, "axis": null}}},

{"data": {"values": [{"t": 10.43, "v": 86.7, "label": "10-18 min 20倍放大"}]},
"mark": {"type": "text", "align": "left", "baseline": "middle", "font": "Liberation Sans, Noto Sans CJK SC", "fontSize": 20, "color": "black"},
"encoding": {
"x": {"field": "t", "type": "quantitative", "scale": {"domain": [10, 18], "range": [900, 1217], "nice": false, "zero": false}, "axis": null},
"y": {"field": "v", "type": "quantitative", "scale": {"domain": [0, 100], "range": [432, 237], "nice": false, "zero": false}, "axis": null},
"text": {"field": "label"}}},

{"data": {"values": [
{"t": 10.38, "v": 40.0, "n": "16"}, {"t": 11.51, "v": 42.9, "n": "18"}, {"t": 12.54, "v": 49.7, "n": "20"}, {"t": 13.45, "v": 54.0, "n": "22"}, {"t": 14.33, "v": 58.3, "n": "24"}, {"t": 15.07, "v": 70.3, "n": "26"}, {"t": 15.82, "v": 75.0, "n": "28"}, {"t": 16.54, "v": 55.7, "n": "30"}, {"t": 17.53, "v": 35.0, "n": "33"}
]},
"layer": [
{"mark": {"type": "text", "align": "right", "baseline": "middle", "font": "Liberation Sans", "fontSize": 15, "color": "black", "text": "C"}},
{"mark": {"type": "text", "align": "left", "baseline": "middle", "font": "Liberation Sans", "fontSize": 11, "color": "black", "dx": 1, "dy": 5},
 "encoding": {"text": {"field": "n"}}}
],
"encoding": {
"x": {"field": "t", "type": "quantitative", "scale": {"domain": [10, 18], "range": [900, 1217], "nice": false, "zero": false}, "axis": null},
"y": {"field": "v", "type": "quantitative", "scale": {"domain": [0, 100], "range": [432, 237], "nice": false, "zero": false}, "axis": null}}},

{"data": {"values": [
{"t1": 17.7, "v1": 23.2, "t2": 17.7, "v2": 14.4}, {"t1": 17.49, "v1": 20.7, "t2": 17.7, "v2": 14.4}, {"t1": 17.95, "v1": 20.7, "t2": 17.7, "v2": 14.4}
]},
"mark": {"type": "rule", "color": "black", "strokeWidth": 2.5, "strokeCap": "round"},
"encoding": {
"x": {"field": "t1", "type": "quantitative", "scale": {"domain": [10, 18], "range": [900, 1217], "nice": false, "zero": false}, "axis": null},
"x2": {"field": "t2"},
"y": {"field": "v1", "type": "quantitative", "scale": {"domain": [0, 100], "range": [432, 237], "nice": false, "zero": false}, "axis": null},
"y2": {"field": "v2"}}},

{"data": {"values": [{"t": -0.613, "v": 15.75, "label": "TIC"}]},
"mark": {"type": "text", "align": "left", "baseline": "middle", "font": "Liberation Sans", "fontSize": 21, "color": "black"},
"encoding": {
"x": {"field": "t", "type": "quantitative", "scale": {"domain": [0, 20], "range": [664.7, 1232], "nice": false, "zero": false}, "axis": null},
"y": {"field": "v", "type": "quantitative", "scale": {"domain": [0, 100], "range": [223.5, 23.5], "nice": false, "zero": false}, "axis": null},
"text": {"field": "label"}}},

{"data": {"values": [{"t": -0.73, "v": 22.9, "label": "EIC"}, {"t": 0.63, "v": 10.9, "label": "57"}]},
"mark": {"type": "text", "align": "left", "baseline": "middle", "font": "Liberation Sans", "fontSize": 21, "color": "#ff0000"},
"encoding": {
"x": {"field": "t", "type": "quantitative", "scale": {"domain": [0, 20], "range": [664.7, 1232], "nice": false, "zero": false}, "axis": null},
"y": {"field": "v", "type": "quantitative", "scale": {"domain": [0, 100], "range": [479.5, 279.5], "nice": false, "zero": false}, "axis": null},
"text": {"field": "label"}}},

{"data": {"values": [{"t": -0.73, "v": 10.9, "label": "m/z"}]},
"mark": {"type": "text", "align": "left", "baseline": "middle", "font": "Liberation Sans", "fontSize": 21, "fontStyle": "italic", "color": "#ff0000"},
"encoding": {
"x": {"field": "t", "type": "quantitative", "scale": {"domain": [0, 20], "range": [664.7, 1232], "nice": false, "zero": false}, "axis": null},
"y": {"field": "v", "type": "quantitative", "scale": {"domain": [0, 100], "range": [479.5, 279.5], "nice": false, "zero": false}, "axis": null},
"text": {"field": "label"}}}
]
}
